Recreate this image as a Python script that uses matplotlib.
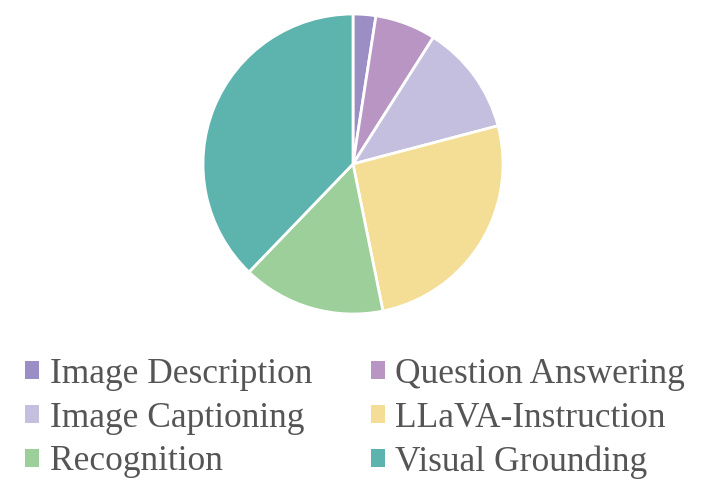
import matplotlib
matplotlib.use("Agg")
import matplotlib.pyplot as plt
from matplotlib.patches import Patch

labels = ["Image Description", "Question Answering", "Image Captioning",
          "LLaVA-Instruction", "Recognition", "Visual Grounding"]
values = [2.45, 6.55, 11.9, 25.9, 15.4, 37.8]
colors = ["#9b8ec4", "#b995c4", "#c4bfdf", "#f4de95", "#9ccf99", "#5db3ad"]

plt.rcParams['font.family'] = ['Liberation Serif', 'DejaVu Serif']

fig = plt.figure(figsize=(7.08, 4.86), dpi=100)
ax = fig.add_axes([203/708, (486-314)/486, 300/708, 300/486])
ax.pie(values, colors=colors, startangle=90, counterclock=False,
       wedgeprops=dict(edgecolor="white", linewidth=2))
ax.set_xlim(-1, 1)
ax.set_ylim(-1, 1)
ax.set_aspect("equal")
ax.axis("off")

# legend filled row-wise (2 columns)
order = [0, 2, 4, 1, 3, 5]
handles = [Patch(facecolor=colors[i], edgecolor="none") for i in order]
leg_labels = [labels[i] for i in order]
leg = fig.legend(handles, leg_labels, ncol=2, loc="upper left",
                 bbox_to_anchor=(25/708, 1 - 358/486), frameon=False,
                 fontsize=25.5, labelcolor="#555555",
                 handlelength=0.4, handleheight=0.4, handletextpad=0.3,
                 columnspacing=1.65, labelspacing=0.3, borderpad=0.0,
                 borderaxespad=0.0)

fig.savefig("out.png", dpi=100)
